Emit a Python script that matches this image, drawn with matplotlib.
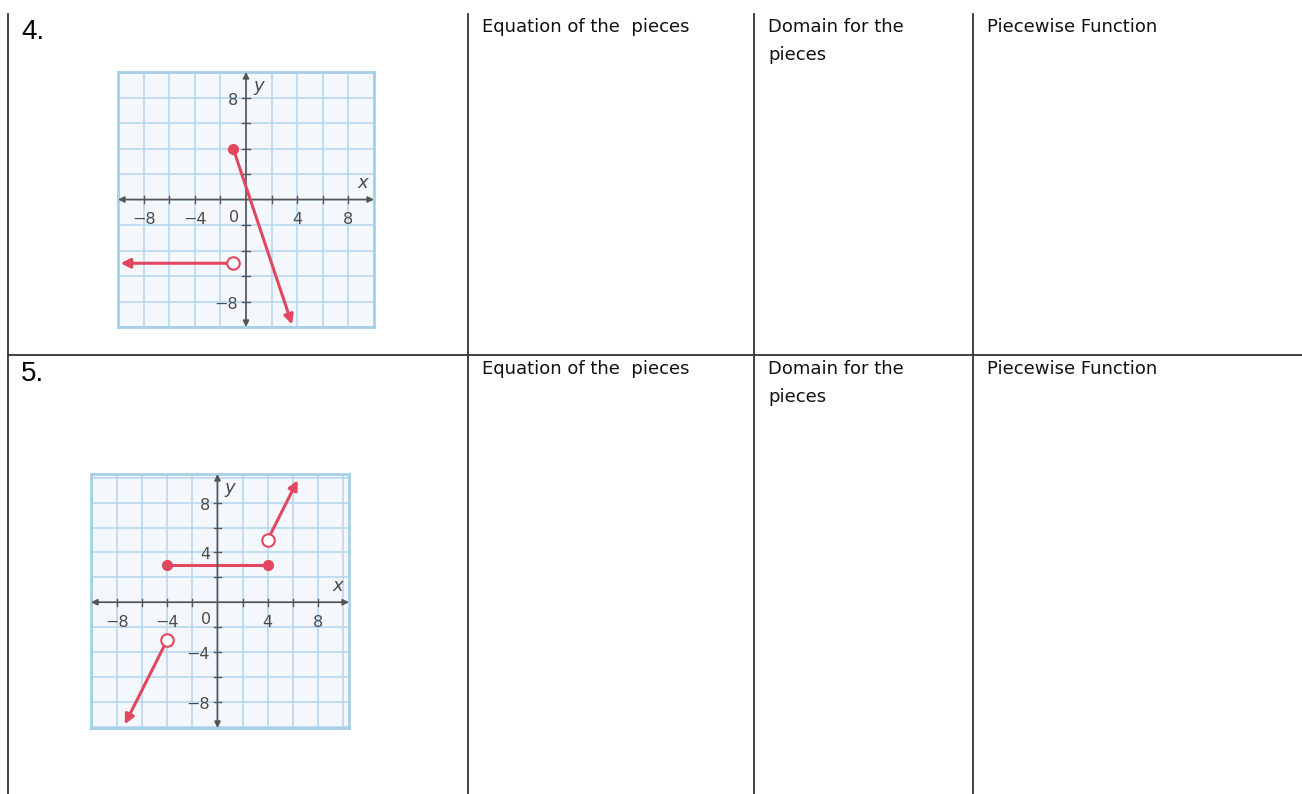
import numpy as np
import matplotlib.pyplot as plt

W, H = 1302, 794

# --- Data: table text ---
row_labels = ['4.', '5.']
col_headers = [['Equation of the  pieces'], ['Domain for the', 'pieces'], ['Piecewise Function']]

# --- Data: graph 4 (left piece, right piece) ---
g4_seg_x = [[-1, 3.6], [-1, -9.8]]
g4_seg_y = [[4, -9.8], [-5, -5]]
g4_start_open = [False, True]
g4_end_arrow = [True, True]
g4_xlabels = [-8, -4, 4, 8]
g4_ylabels = [8, -8]

# --- Data: graph 5 ---
g5_seg_x = [[-4, 4], [4, 6.4], [-4, -7.4]]
g5_seg_y = [[3, 3], [5, 9.8], [-3, -9.8]]
g5_start_open = [False, True, True]
g5_end_arrow = [False, True, True]
g5_xlabels = [-8, -4, 4, 8]
g5_ylabels = [8, 4, -4, -8]

red = '#e2475f'
grid_c = '#b3d6ee'
axis_c = '#555555'
line_c = '#333333'

fig = plt.figure(figsize=(W / 100, H / 100), dpi=100)
ax = fig.add_axes([0, 0, 1, 1])
ax.set_xlim(0, W)
ax.set_ylim(H, 0)
ax.axis('off')

# --- Table lines ---
col_x = [8, 468, 754, 973]
for cx in col_x:
    ax.plot([cx, cx], [14, H], color=line_c, lw=1.3)
ax.plot([8, W], [355, 355], color=line_c, lw=1.3)

# --- Table text ---
row_y = [27, 369]
text_x = [482, 768, 987]
for ry, lab in zip(row_y, row_labels):
    ax.text(21, ry + 5, lab, fontsize=20, family='Liberation Sans', va='center', ha='left')
    for tx, lines in zip(text_x, col_headers):
        for i, s in enumerate(lines):
            ax.text(tx, ry + i * 28, s, fontsize=13, family='DejaVu Sans', va='center', ha='left',
                    color='#111111')


def px_box(left, top, right, bottom):
    return [left / W, 1 - bottom / H, (right - left) / W, (bottom - top) / H]


def draw_graph(box, xlim, ylim, seg_x, seg_y, start_open, end_arrow, xlabels, ylabels):
    g = fig.add_axes(px_box(*box))
    g.set_xlim(xlim)
    g.set_ylim(ylim)
    g.set_facecolor('#f4f8fc')
    g.set_xticks(np.arange(-10, 11, 2))
    g.set_yticks(np.arange(-10, 11, 2))
    g.grid(color=grid_c, lw=1.1)
    g.tick_params(length=0, labelbottom=False, labelleft=False)
    for sp in g.spines.values():
        sp.set_color('#a6cfe9')
        sp.set_linewidth(2)

    # axes with arrows at both ends
    g.annotate('', xy=(xlim[1], 0), xytext=(xlim[0], 0),
               arrowprops=dict(arrowstyle='<|-|>', color=axis_c, lw=1.2, mutation_scale=9,
                               shrinkA=0, shrinkB=0))
    g.annotate('', xy=(0, ylim[1]), xytext=(0, ylim[0]),
               arrowprops=dict(arrowstyle='<|-|>', color=axis_c, lw=1.2, mutation_scale=9,
                               shrinkA=0, shrinkB=0))
    for t in np.arange(-8, 9, 2):
        if t == 0:
            continue
        g.plot([t, t], [-0.3, 0.3], color=axis_c, lw=1)
        g.plot([-0.3, 0.3], [t, t], color=axis_c, lw=1)

    lab_kw = dict(fontsize=11.5, color='#4a4a4a', family='DejaVu Sans', va='center')
    for v in xlabels:
        g.text(v, -1.6, f'{v}'.replace('-', '\u2212'), ha='center', **lab_kw)
    for v in ylabels:
        g.text(-0.6, v - 0.2, f'{v}'.replace('-', '\u2212'), ha='right', **lab_kw)
    g.text(-0.9, -1.4, '0', ha='center', **lab_kw)
    lab_kw['fontsize'] = 13
    g.text(xlim[1] - 0.9, 1.3, 'x', ha='center', style='italic', **lab_kw)
    g.text(1.0, ylim[1] - 1.1, 'y', ha='center', style='italic', **lab_kw)

    for xs, ys, op, arr in zip(seg_x, seg_y, start_open, end_arrow):
        if arr:
            g.annotate('', xy=(xs[1], ys[1]), xytext=(xs[0], ys[0]),
                       arrowprops=dict(arrowstyle='-|>', color=red, lw=2.2, mutation_scale=14,
                                       shrinkA=0, shrinkB=0))
        else:
            g.plot(xs, ys, color=red, lw=2.2)
            g.plot(xs[1], ys[1], 'o', color=red, ms=7, zorder=5)
        if op:
            g.plot(xs[0], ys[0], 'o', mfc='white', mec=red, mew=1.5, ms=9, zorder=5)
        else:
            g.plot(xs[0], ys[0], 'o', color=red, ms=7, zorder=5)


draw_graph((118, 72, 374, 327), (-10, 10), (-10, 10), g4_seg_x, g4_seg_y,
           g4_start_open, g4_end_arrow, g4_xlabels, g4_ylabels)
draw_graph((91, 474, 349, 728), (-10.1, 10.5), (-10.1, 10.3), g5_seg_x, g5_seg_y,
           g5_start_open, g5_end_arrow, g5_xlabels, g5_ylabels)

fig.savefig('out.png', dpi=100)
